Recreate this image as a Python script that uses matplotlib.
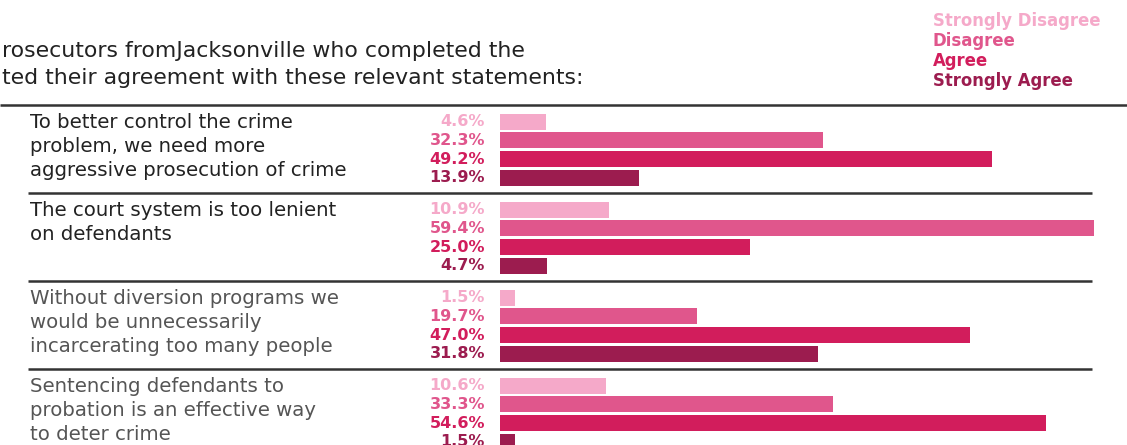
import numpy as np
import matplotlib.pyplot as plt

plt.rcParams['font.family'] = ['DejaVu Sans']

categories = ["Strongly Disagree", "Disagree", "Agree", "Strongly Agree"]
colors = ["#f5a9c9", "#e0568c", "#d21d5c", "#9c1c4f"]

statements = [
    ["To better control the crime", "problem, we need more", "aggressive prosecution of crime"],
    ["The court system is too lenient", "on defendants"],
    ["Without diversion programs we", "would be unnecessarily", "incarcerating too many people"],
    ["Sentencing defendants to", "probation is an effective way", "to deter crime"],
]
text_colors = ["#222222", "#222222", "#555555", "#555555"]

values = np.array([
    [4.6, 32.3, 49.2, 13.9],
    [10.9, 59.4, 25.0, 4.7],
    [1.5, 19.7, 47.0, 31.8],
    [10.6, 33.3, 54.6, 1.5],
])

title_lines = [
    "rosecutors fromJacksonville who completed the",
    "ted their agreement with these relevant statements:",
]

W, H = 1127, 445
fig = plt.figure(figsize=(W / 100, H / 100), dpi=100)

# pixel-coordinate canvas for text and rules
ax = fig.add_axes([0, 0, 1, 1])
ax.set_xlim(0, W)
ax.set_ylim(H, 0)
ax.axis("off")

# bar axes: x in percent, y in pixel rows
x0 = 500
bx = fig.add_axes([x0 / W, 0, (W - x0) / W, 1])
bx.set_xlim(0, (W - x0) / 10)
bx.set_ylim(H, 0)
bx.axis("off")
bx.patch.set_alpha(0)

for i, line in enumerate(title_lines):
    ax.text(2, 57 + 27 * i, line, fontsize=15.8, color="#222222", va="baseline", ha="left")

for i, (cat, c) in enumerate(zip(categories, colors)):
    ax.text(933, 21.5 + 20 * i, cat, fontsize=11.9, fontweight="bold", color=c,
            va="center", ha="left")

group_h = 88
top0 = 105
ax.plot([0, W], [top0, top0], color="#333333", lw=1.8, solid_capstyle="butt")

for g, stmt in enumerate(statements):
    top = top0 + group_h * g
    if g > 0:
        ax.plot([28, 1092], [top, top], color="#333333", lw=1.8, solid_capstyle="butt")
    for k, line in enumerate(stmt):
        ax.text(30, top + 23 + 24 * k, line, fontsize=14.2, color=text_colors[g],
                va="baseline", ha="left")
    ys = top + 16.5 + 18.8 * np.arange(4)
    bx.barh(ys, values[g], height=16, color=colors, left=0)
    for y, v, c in zip(ys, values[g], colors):
        ax.text(485, y, f"{v:.1f}%", fontsize=11.5, fontweight="bold", color=c,
                va="center", ha="right")

fig.savefig("out.png", dpi=100)
